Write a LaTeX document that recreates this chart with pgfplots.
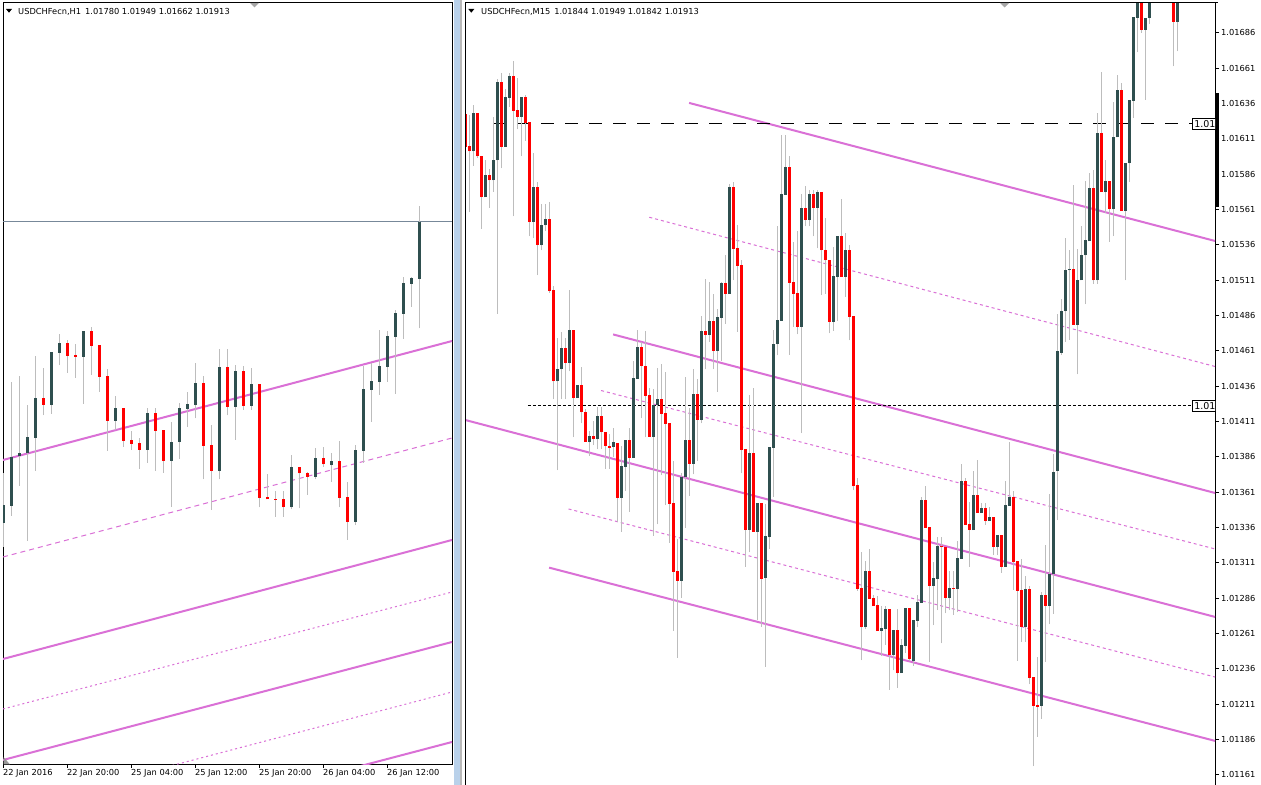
\documentclass[border=0pt]{standalone}
\usepackage{pgfplots}
\pgfplotsset{compat=1.18}
\usepackage{pgfplotstable}
\usepackage{fontspec}
\setmainfont{DejaVu Sans}
\definecolor{bull}{HTML}{2F4F4F}
\definecolor{bear}{HTML}{FF0000}
\definecolor{wickc}{HTML}{BDBDBD}
\definecolor{orch}{HTML}{DA70D6}
\definecolor{bidc}{HTML}{778899}
\definecolor{sepblue}{HTML}{B9D1EA}
\newcommand{\tf}{\fontsize{8.3}{10}\selectfont}

% values: points above 1.01000 (1 point = 0.00001)
\pgfplotstableread{
i O H L C
0 211.8 326.7 155.8 252.9
1 251.4 540.3 228.1 365.5
2 367.9 553.5 298.0 373.3
3 373.3 485.9 169.8 410.6
4 409.8 600.1 332.9 502.2
5 502.2 572.9 462.6 486.7
6 486.7 609.4 465.7 609.4
7 607.9 651.4 579.1 629.6
8 629.6 637.4 561.3 600.9
9 602.5 628.1 549.6 598.6
10 598.6 658.4 489.0 658.4
11 658.4 667.7 556.6 624.2
12 625.7 625.7 516.2 552.0
13 553.5 569.8 379.5 449.4
14 449.4 506.9 427.7 478.2
15 478.2 478.2 388.8 402.8
16 404.4 425.4 381.1 395.8
17 397.4 408.3 337.6 381.9
18 381.9 478.2 351.6 466.5
19 466.5 478.2 332.9 426.1
20 427.7 427.7 328.3 356.2
21 356.2 447.1 249.0 400.5
22 400.5 489.8 360.9 478.2
23 476.6 515.4 435.4 487.5
24 485.9 583.8 454.9 537.2
25 537.2 553.5 312.7 391.2
26 392.7 439.3 242.1 332.9
27 332.9 615.6 312.7 574.5
28 574.5 615.6 461.8 482.0
29 482.0 579.1 405.2 565.2
30 565.2 577.6 475.1 484.4
31 484.4 572.1 475.1 535.6
32 535.6 535.6 247.5 270.0
33 271.6 325.2 266.1 266.1
34 267.5 285.5 225.7 265.5
35 266.9 285.5 225.7 247.5
36 247.5 369.4 242.8 341.5
37 341.5 341.5 245.2 326.7
38 327.5 330.6 277.0 318.9
39 318.9 386.5 312.7 362.4
40 362.4 388.1 342.2 347.7
41 346.1 374.1 307.3 355.4
42 355.4 402.1 247.5 270.0
43 271.6 307.3 172.1 214.1
44 214.1 392.7 205.5 381.1
45 379.5 577.6 351.6 523.2
46 520.9 583.8 447.1 541.9
47 540.3 661.5 510.0 577.6
48 575.2 658.4 540.3 646.7
49 645.2 707.3 512.3 700.3
50 698.7 784.2 640.5 770.2
51 768.6 785.0 715.1 781.9
52 779.5 949.6 664.6 913.1
}\lefttab

\pgfplotstableread{
i O H L C
0 628.7 634.3 559.1 605.6
1 606.2 628.1 559.1 602.2
2 602.2 635.2 592.1 629.3
3 629.3 629.3 597.7 598.6
4 599.1 599.1 547.6 569.6
5 569.6 595.8 569.6 585.6
6 585.6 589.6 562.5 581.7
7 581.7 626.7 573.8 596.3
8 595.8 653.5 487.3 651.2
9 651.2 657.7 590.1 605.6
10 605.6 646.5 605.6 640.8
11 640.3 657.7 633.8 655.5
12 655.5 666.2 556.3 631.0
13 631.5 654.1 617.7 626.7
14 626.7 640.8 598.6 640.8
15 640.8 642.2 609.8 622.5
16 623.1 623.1 542.2 552.1
17 552.1 601.4 540.8 577.2
18 577.2 580.8 514.6 535.8
19 535.8 565.3 532.4 550.4
20 549.8 565.3 545.6 554.6
21 554.6 566.7 502.2 503.6
22 504.2 507.0 426.7 439.4
23 439.4 470.4 376.6 448.4
24 447.9 474.1 426.7 463.4
25 463.4 470.4 426.7 452.7
26 452.7 504.2 446.5 475.5
27 475.5 475.5 400.0 427.6
28 427.6 436.6 427.6 436.6
29 436.6 449.3 409.8 417.7
30 417.7 419.7 396.6 396.6
31 396.6 404.2 386.7 401.1
32 401.1 411.2 394.3 398.6
33 398.6 421.7 391.5 414.9
34 414.9 421.7 391.5 403.6
35 403.6 403.6 377.5 393.8
36 393.8 401.9 377.5 392.4
37 392.9 406.2 385.9 396.3
38 395.6 395.6 340.2 357.2
39 357.2 393.8 333.1 379.6
40 379.1 398.0 361.9 398.0
41 398.0 406.2 347.3 385.5
42 385.5 453.9 385.5 441.6
43 441.2 475.8 441.2 463.8
44 463.8 467.6 413.3 450.6
45 450.6 475.1 399.9 429.4
46 429.8 434.6 400.4 400.4
47 400.4 434.1 330.3 422.8
48 422.8 448.9 338.3 427.0
49 427.0 452.0 373.2 416.6
50 417.1 446.3 352.0 409.5
51 410.0 410.0 325.3 352.9
52 353.4 383.1 263.1 304.8
53 305.3 327.9 244.0 298.4
54 298.4 374.4 286.4 372.0
55 372.0 442.8 336.0 398.0
56 398.0 420.9 358.6 381.2
57 381.2 448.2 373.7 430.5
58 430.5 441.2 383.4 412.4
59 412.4 486.0 409.8 475.1
60 475.1 511.9 448.0 472.5
61 472.5 509.8 467.6 482.2
62 482.2 501.3 448.2 461.0
63 461.0 490.7 432.2 485.0
64 484.6 509.6 454.1 509.1
65 509.1 528.9 480.3 501.5
66 501.5 578.9 501.5 577.0
67 577.0 580.3 511.2 533.2
68 533.9 550.1 474.7 521.4
69 521.8 525.4 374.4 390.9
70 391.6 391.6 308.4 334.5
71 334.5 429.8 318.5 388.8
72 388.8 434.6 333.1 333.1
73 333.1 353.4 270.6 353.4
74 353.4 353.4 265.9 299.9
75 300.3 352.6 237.6 329.8
76 329.1 393.4 321.2 393.4
77 392.6 475.9 357.8 466.0
78 465.8 549.4 457.9 483.0
79 482.5 613.5 482.5 572.2
80 571.4 613.5 571.4 591.2
81 591.2 599.1 458.4 509.4
82 509.9 538.2 478.1 501.6
83 502.1 546.0 472.8 478.1
84 478.1 572.2 402.8 562.2
85 562.2 577.4 549.4 553.9
86 553.9 574.8 549.4 572.2
87 572.2 574.8 542.1 562.2
88 562.2 574.8 533.5 573.5
89 573.5 573.5 500.8 532.2
90 532.7 555.2 501.6 525.1
91 525.6 525.6 473.4 481.7
92 481.7 534.3 475.4 514.1
93 513.6 542.4 482.5 542.4
94 542.4 568.8 513.6 513.6
95 513.6 544.7 499.5 532.7
96 532.7 536.1 468.4 485.1
97 485.9 485.9 362.5 365.1
98 365.9 371.4 291.2 292.5
99 293.0 319.1 242.3 265.5
100 265.5 312.1 264.2 305.0
101 305.0 321.2 285.4 285.4
102 286.0 288.5 280.4 280.4
103 281.0 287.8 262.7 262.7
104 262.7 280.7 245.4 264.8
105 264.2 280.7 253.3 278.1
106 278.1 278.1 221.4 246.2
107 246.2 263.4 235.0 263.4
108 263.4 278.1 222.7 233.1
109 233.1 257.2 233.1 252.7
110 252.2 278.9 247.3 278.9
111 278.9 278.9 241.5 242.8
112 241.9 270.6 238.3 270.6
113 270.2 288.3 265.4 283.4
114 282.9 357.9 282.9 355.6
115 355.6 365.5 336.0 336.0
116 336.5 336.5 241.1 294.9
117 294.9 311.7 267.1 300.4
118 299.9 329.1 277.7 323.2
119 323.0 329.1 254.1 322.0
120 322.5 322.5 275.4 286.4
121 286.4 305.6 277.7 293.3
122 293.6 305.6 274.2 292.6
123 292.8 326.3 276.3 314.5
124 314.0 381.0 314.0 369.0
125 369.0 370.9 337.9 337.9
126 338.3 354.4 308.4 334.3
127 334.3 376.1 334.3 359.1
128 359.1 383.9 346.4 346.4
129 346.4 353.2 346.4 349.9
130 349.9 353.2 337.9 340.9
131 340.9 350.4 340.9 343.5
132 343.5 343.5 316.6 322.5
133 322.5 330.8 316.6 330.8
134 330.8 330.8 304.1 308.4
135 308.4 369.0 308.4 352.0
136 351.5 396.6 351.5 357.7
137 357.7 361.9 291.9 311.9
138 312.4 312.4 241.9 291.4
139 291.9 313.8 255.3 265.9
140 265.9 302.0 255.3 292.6
141 292.6 294.9 225.1 229.8
142 230.3 230.3 167.3 209.8
143 210.3 244.7 188.1 209.3
144 209.8 290.2 200.8 288.3
145 288.3 323.7 241.1 280.8
146 280.8 359.8 267.8 303.2
147 303.2 388.1 275.1 375.6
148 376.0 487.2 341.1 460.7
149 459.8 497.5 458.4 489.2
150 489.2 540.9 467.6 518.5
151 518.0 532.5 469.0 519.3
152 519.3 578.6 479.7 479.7
153 479.7 533.3 444.5 511.5
154 511.0 549.3 511.0 529.1
155 528.6 581.4 494.2 539.2
156 538.6 587.0 538.6 576.6
157 576.6 589.2 508.7 511.0
158 511.0 629.4 508.7 615.5
159 615.5 658.5 573.3 573.3
160 573.3 596.2 558.5 581.4
161 581.4 581.4 538.4 561.3
162 561.3 637.3 542.3 612.7
163 612.1 656.3 612.1 645.6
164 645.6 650.7 559.9 559.9
165 559.9 594.2 511.0 594.2
166 593.7 638.7 580.8 638.7
167 638.1 697.3 626.1 697.3
168 696.8 716.0 672.2 712.0
169 712.0 716.0 686.2 688.4
170 688.4 696.5 638.9 696.5
171 696.5 716.0 692.6 712.0
172 712.0 730.0 709.0 726.0
173 726.0 741.0 718.0 735.0
174 735.0 744.0 721.0 727.0
175 727.0 736.0 712.0 730.0
176 730.0 738.0 714.0 718.0
177 718.0 722.0 662.4 694.0
178 694.0 718.0 673.0 712.0
}\righttab

\pgfplotsset{
  wickplot/.style={mark=none, draw=none, forget plot,
    error bars/y dir=plus, error bars/y explicit, error bars/error mark=none,
    error bars/error bar style={draw=wickc, line width=1bp}},
  bodyplot/.style 2 args={mark=none, draw=none, forget plot,
    error bars/y dir=plus, error bars/y explicit, error bars/error mark=none,
    error bars/error bar style={draw=#1, line width=#2}},
}

\begin{document}
\begin{tikzpicture}
\useasboundingbox (0,0) rectangle (1261bp,785bp);
\fill[white] (0,0) rectangle (1261bp,785bp);
% splitter between panels
\fill[sepblue] (454bp,0) rectangle (460bp,785bp);
\fill[gray!55] (460bp,0) rectangle (462bp,785bp);

% ---------------- left panel (H1) ----------------
\begin{axis}[at={(3bp,782bp)}, anchor=north west, scale only axis,
  width=449bp, height=762bp,
  xmin=-0.04, xmax=56.08, ymin=-352.9, ymax=1422.6,
  axis line style={line width=1bp, black},
  ytick=\empty,
  xtick={0,8,16,24,32,40,48},
  xticklabels={22 Jan 2016,22 Jan 20:00,25 Jan 04:00,25 Jan 12:00,25 Jan 20:00,26 Jan 04:00,26 Jan 12:00},
  xtick pos=left, tick align=outside, major tick length=3bp,
  tick style={line width=1bp, black},
  xticklabel style={font=\tf, anchor=north west, inner sep=0pt, xshift=-0.5bp, yshift=-1bp},
  clip=true]
% channel lines
\addplot[orch, line width=2bp, forget plot] coordinates {(-0.04,357.8) (56.08,635.0)};
\addplot[orch, line width=1bp, dash pattern=on 5bp off 4bp, forget plot] coordinates {(-0.04,131.8) (56.08,409.0)};
\addplot[orch, line width=2bp, forget plot] coordinates {(-0.04,-105.9) (56.08,171.4)};
\addplot[orch, line width=1bp, dash pattern=on 2bp off 3bp, forget plot] coordinates {(-0.04,-222.4) (56.08,50.2)};
\addplot[orch, line width=2bp, forget plot] coordinates {(-0.04,-341.2) (56.08,-66.3)};
\addplot[orch, line width=1bp, dash pattern=on 2bp off 3bp, forget plot] coordinates {(-0.04,-457.7) (56.08,-182.8)};
\addplot[orch, line width=2bp, forget plot] coordinates {(-0.04,-574.2) (56.08,-299.3)};
% bid line
\addplot[bidc, line width=1bp, forget plot] coordinates {(-0.04,913) (56.08,913)};
% candles
\addplot[wickplot] table[x=i, y=L, y error plus expr=\thisrow{H}-\thisrow{L}] {\lefttab};
\addplot[bodyplot={bear}{3bp}] table[x=i, y expr={\thisrow{C}<\thisrow{O} ? \thisrow{C} : nan}, y error plus expr=\thisrow{O}-\thisrow{C}] {\lefttab};
\addplot[bodyplot={bull}{3bp}] table[x=i, y expr={\thisrow{C}>\thisrow{O} ? \thisrow{O} : nan}, y error plus expr=\thisrow{C}-\thisrow{O}] {\lefttab};
\end{axis}

% ---------------- right panel (M15) ----------------
\begin{axis}[at={(465bp,782bp)}, anchor=north west, scale only axis,
  width=750bp, height=782bp,
  xmin=-0.125, xmax=187.375, ymin=153.9, ymax=707.2,
  axis x line=none, axis y line=right,
  axis line style={line width=1bp, black, -},
  every outer y axis line/.append style={-},
  ytick={161,186,...,686},
  yticklabels={1.01161,1.01186,1.01211,1.01236,1.01261,1.01286,1.01311,1.01336,1.01361,1.01386,1.01411,1.01436,1.01461,1.01486,1.01511,1.01536,1.01561,1.01586,1.01611,1.01636,1.01661,1.01686},
  tick align=outside, major tick length=4bp,
  tick style={line width=1bp, black},
  yticklabel style={font=\tf, anchor=west, inner sep=0pt, xshift=2bp},
  clip=true]
% channel lines
\addplot[orch, line width=2bp, forget plot] coordinates {(55.9,636.5) (187.4,538.8)};
\addplot[orch, line width=1bp, dash pattern=on 3bp off 3bp, forget plot] coordinates {(45.95,555.6) (187.4,450.0)};
\addplot[orch, line width=2bp, forget plot] coordinates {(36.9,472.7) (187.4,360.5)};
\addplot[orch, line width=1bp, dash pattern=on 3bp off 3bp, forget plot] coordinates {(33.9,433.0) (187.4,320.9)};
\addplot[orch, line width=2bp, forget plot] coordinates {(-0.125,412.2) (187.4,272.8)};
\addplot[orch, line width=1bp, dash pattern=on 3bp off 3bp, forget plot] coordinates {(25.75,349.2) (187.4,230.3)};
\addplot[orch, line width=2bp, forget plot] coordinates {(20.9,307.7) (187.4,185.1)};
% horizontal levels
\addplot[black, line width=1bp, dash pattern=on 12.5bp off 11.5bp, forget plot] coordinates {(6.9,621.6) (181.6,621.6)};
\addplot[black, line width=1bp, dash pattern=on 3bp off 2bp, forget plot] coordinates {(15.6,422.1) (181.6,422.1)};
% candles
\addplot[wickplot] table[x=i, y=L, y error plus expr=\thisrow{H}-\thisrow{L}] {\righttab};
\addplot[bodyplot={bear}{2.8bp}] table[x=i, y expr={\thisrow{C}<\thisrow{O} ? \thisrow{C} : nan}, y error plus expr=\thisrow{O}-\thisrow{C}] {\righttab};
\addplot[bodyplot={bull}{2.8bp}] table[x=i, y expr={\thisrow{C}>\thisrow{O} ? \thisrow{O} : nan}, y error plus expr=\thisrow{C}-\thisrow{O}] {\righttab};
% level labels
\begin{scope}
\clip (rel axis cs:0,0) rectangle (rel axis cs:1,1);
\node[draw=black, fill=white, line width=0.8bp, font=\fontsize{9.5}{10}\selectfont, inner xsep=2bp, inner ysep=1.5bp, anchor=west] at (axis cs:181.6,621.6) {1.01622};
\node[draw=black, fill=white, line width=0.8bp, font=\fontsize{9.5}{10}\selectfont, inner xsep=2bp, inner ysep=1.5bp, anchor=west] at (axis cs:181.6,422.1) {1.01422};
\end{scope}
\end{axis}

% right panel left and top borders
\draw[black, line width=1bp] (465bp,0) -- (465bp,782.3bp) -- (1218bp,782.3bp);
% price highlight bar on the right scale
\fill[black] (1215.5bp,692bp) rectangle (1218.7bp,578bp);

% headers
\fill[black] (6bp,776bp) -- (12bp,776bp) -- (9bp,772.3bp) -- cycle;
\node[anchor=base west, font=\tf, inner sep=0pt] at (18bp,770.7bp) {USDCHFecn,H1\hspace{4bp}1.01780 1.01949 1.01662 1.01913};
\fill[black] (468.3bp,776bp) -- (474.3bp,776bp) -- (471.3bp,772.3bp) -- cycle;
\node[anchor=base west, font=\tf, inner sep=0pt] at (481bp,770.7bp) {USDCHFecn,M15\hspace{4bp}1.01844 1.01949 1.01842 1.01913};
% chart shift markers
\fill[gray!70] (250bp,782bp) -- (259bp,782bp) -- (254.5bp,777.5bp) -- cycle;
\fill[gray!70] (1000bp,782bp) -- (1009bp,782bp) -- (1004.5bp,777.5bp) -- cycle;
% corner marker bottom-left
\fill[gray!80] (3.5bp,28bp) -- (3.5bp,20.5bp) -- (10bp,20.5bp) -- cycle;
\end{tikzpicture}
\end{document}
